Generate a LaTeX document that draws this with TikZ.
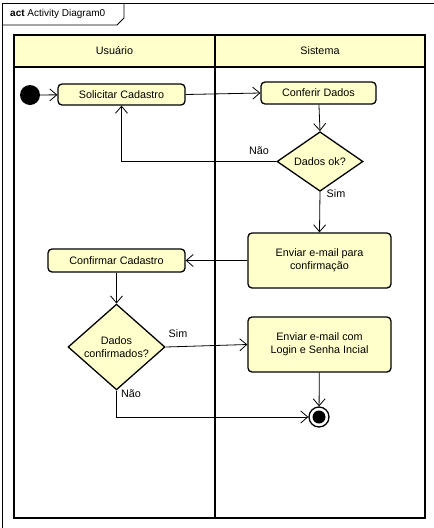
\documentclass[tikz,border=0pt]{standalone}
\usepackage{fontspec}
\setmainfont{Liberation Sans}
\usetikzlibrary{arrows.meta,shapes.geometric}
\definecolor{umlfill}{HTML}{FFFFCC}
\tikzset{
  x=1pt,y=-1pt,
  every node/.style={font=\fontsize{10.8}{13}\selectfont},
  action/.style={draw,line width=1.3pt,fill=umlfill,rounded corners=4pt,inner sep=0pt,align=center},
  decision/.style={draw,line width=1.3pt,fill=umlfill,diamond,inner sep=0pt,align=center},
  flow/.style={line width=0.8pt,-{Straight Barb[length=7pt,width=12pt,line width=0.8pt]}},
  plain/.style={line width=0.8pt},
  lane/.style={line width=1.6pt},
  lbl/.style={inner sep=1pt}
}
\begin{document}
\begin{tikzpicture}
\useasboundingbox (0,0) rectangle (434,528);
% outer frame
\draw[line width=0.8pt] (2,528) -- (2,3) -- (434,3);
\draw[line width=0.8pt] (2,25) -- (117,25) -- (124,18) -- (124,3);
\node[anchor=west,inner sep=0pt,font=\fontsize{10}{12}\selectfont] (title) at (10,14) {\textbf{act} Activity Diagram0};
% swimlanes
\fill[umlfill] (14,35) rectangle (425,67);
\draw[lane] (14,35) rectangle (425,518);
\draw[lane] (215,35) -- (215,518);
\draw[lane] (14,67) -- (425,67);
\node (lane1) at (114.5,51) {Usuário};
\node (lane2) at (320,51) {Sistema};
% nodes
\node[circle,fill=black,minimum size=20pt,inner sep=0pt] (init) at (30,95) {};
\node[action,minimum width=127pt,minimum height=21pt] (solicitar) at (121.5,94.5) {Solicitar Cadastro};
\node[action,minimum width=115pt,minimum height=22pt] (conferir) at (318.5,93) {Conferir Dados};
\node[decision,minimum width=86pt,minimum height=59pt] (ok) at (320,161.5) {Dados ok?};
\node[action,minimum width=143pt,minimum height=55pt] (envconf) at (319.5,260.5) {Enviar e-mail para\\confirmação};
\node[action,minimum width=137pt,minimum height=23pt] (confirmar) at (116.5,260.5) {Confirmar Cadastro};
\node[decision,minimum width=97pt,minimum height=69pt] (confd) at (116.5,347) {Dados\\confirmados?};
\node[action,minimum width=143pt,minimum height=55pt] (envlogin) at (319.5,344.5) {Enviar e-mail com\\Login e Senha Incial};
\node[circle,draw,line width=1.3pt,minimum size=20pt,inner sep=0pt] (final) at (319,417) {};
\fill[black] (final.center) circle (6.5pt);
\coordinate (c1) at (121.5,161.5);
\coordinate (c2) at (116.5,417);
% connectors
\draw[flow] (init) -- (solicitar);
\draw[flow] (solicitar.east) -- (conferir.west);
\draw[flow] (conferir) -- (ok.north);
\draw[flow] (ok.west) -- (c1) -- (solicitar.south);
\draw[flow] (ok.south) -- (envconf.north);
\draw[flow] (envconf.west) -- (confirmar.east);
\draw[flow] (confirmar) -- (confd.north);
\draw[flow] (confd.east) -- (envlogin.west);
\draw[flow] (envlogin) -- (final);
\draw[flow] (confd.south) -- (c2) -- (final.west);
% labels
\node[lbl] (nao1) at (259,151) {Não};
\node[lbl] (sim1) at (336,194) {Sim};
\node[lbl] (sim2) at (178,334) {Sim};
\node[lbl] (nao2) at (131,394) {Não};
\end{tikzpicture}
\end{document}
